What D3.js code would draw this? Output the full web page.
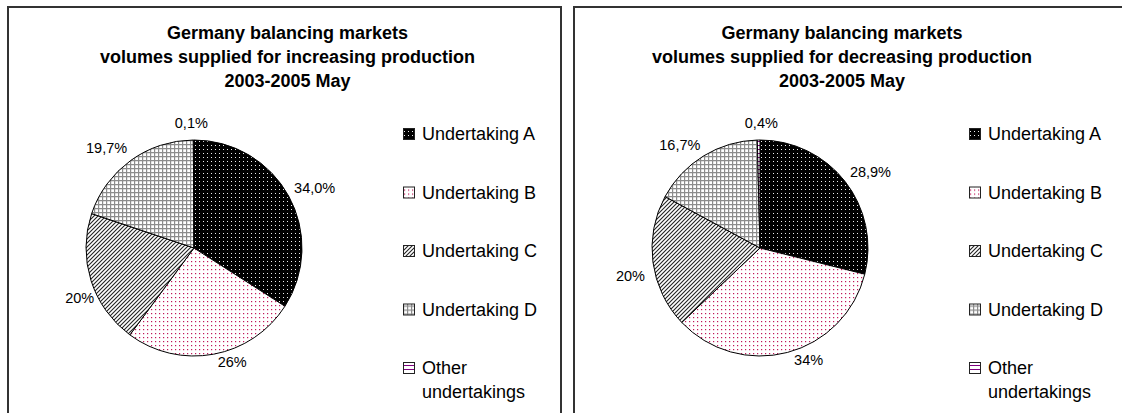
<!DOCTYPE html>
<html>
<head>
<meta charset="utf-8">
<script src="https://cdn.jsdelivr.net/npm/d3@7"></script>
<style>
  html, body { margin: 0; padding: 0; background: #fff; }
  svg { display: block; font-family: Arial, "Liberation Sans", sans-serif; }
</style>
</head>
<body>
<svg id="chart" width="1122" height="413"></svg>
<script>
// Slice categories, in drawing order (clockwise from 12 o'clock)
const categories = ["Undertaking A", "Undertaking B", "Undertaking C", "Undertaking D", "Other undertakings"];

// Shares of volume (%) per undertaking
const increasingValues = [34.0, 26, 20, 19.7, 0.1];
const decreasingValues = [28.9, 34, 20, 16.7, 0.4];

// Data labels as printed on each slice
const increasingLabels = ["34,0%", "26%", "20%", "19,7%", "0,1%"];
const decreasingLabels = ["28,9%", "34%", "20%", "16,7%", "0,4%"];

const titleLines = {
  increasing: ["Germany balancing markets", "volumes supplied for increasing production", "2003-2005 May"],
  decreasing: ["Germany balancing markets", "volumes supplied for decreasing production", "2003-2005 May"]
};

// small hand adjustments of the data labels (best-fit placement)
const labelNudgeIncreasing = [[0, 3], [3, -6], [9, 8], [0, 0], [-2, -3]];
const labelNudgeDecreasing = [[0, 2], [5, -6], [-2, 7], [0, 2], [4, -3]];

const svg = d3.select("#chart");
const defs = svg.append("defs");

// Fill patterns for the five slices
function makePattern(id, size, draw) {
  const p = defs.append("pattern")
    .attr("id", id)
    .attr("patternUnits", "userSpaceOnUse")
    .attr("width", size).attr("height", size);
  draw(p);
}
makePattern("pat-a", 4, p => {
  p.append("rect").attr("width", 4).attr("height", 4).attr("fill", "#000");
  p.append("rect").attr("x", 1).attr("y", 1).attr("width", 1).attr("height", 1).attr("fill", "#eee");
});
makePattern("pat-b", 4, p => {
  p.append("rect").attr("width", 4).attr("height", 4).attr("fill", "#fff");
  p.append("rect").attr("x", 1).attr("y", 1).attr("width", 1.2).attr("height", 1.2).attr("fill", "#c0185a");
});
makePattern("pat-c", 4, p => {
  p.append("rect").attr("width", 4).attr("height", 4).attr("fill", "#fff");
  p.append("path").attr("d", "M-1,5 L5,-1 M-1,1 L1,-1 M3,5 L5,3")
    .attr("stroke", "#222").attr("stroke-width", 1.1);
});
makePattern("pat-d", 4, p => {
  p.append("rect").attr("width", 4).attr("height", 4).attr("fill", "#fff");
  p.append("path").attr("d", "M0.5,0 V4 M0,0.5 H4")
    .attr("stroke", "#8c8c8c").attr("stroke-width", 1.4);
});
makePattern("pat-e", 4, p => {
  p.append("rect").attr("width", 4).attr("height", 4).attr("fill", "#fff");
  p.append("path").attr("d", "M0,1.5 H4").attr("stroke", "#800080").attr("stroke-width", 1);
});
const fills = d3.scaleOrdinal()
  .domain(categories)
  .range(["url(#pat-a)", "url(#pat-b)", "url(#pat-c)", "url(#pat-d)", "url(#pat-e)"]);

const radius = 108;
const pie = d3.pie().sort(null).value(d => d.value).startAngle(0).endAngle(2 * Math.PI);
const arc = d3.arc().innerRadius(0).outerRadius(radius);

function drawPanel(x0, titleCx, titles, values, labels, nudges) {
  const g = svg.append("g").attr("transform", `translate(${x0},7)`);

  // chart frame
  g.append("rect")
    .attr("x", 0).attr("y", 0).attr("width", 553).attr("height", 520)
    .attr("fill", "#fff").attr("stroke", "#333").attr("stroke-width", 2);

  // title
  g.append("text")
    .attr("text-anchor", "middle")
    .attr("font-weight", "bold")
    .attr("font-size", "18px")
    .attr("fill", "#000")
    .selectAll("tspan").data(titles).join("tspan")
    .attr("x", titleCx).attr("y", (d, i) => 26 + i * 24)
    .attr("dy", "0.35em")
    .text(d => d);

  // pie
  const data = categories.map((c, i) => ({ cat: c, value: values[i], label: labels[i], nudge: nudges[i] }));
  const arcs = pie(data);
  const pg = g.append("g").attr("transform", `translate(186,241)`);
  pg.selectAll("path.slice").data(arcs).join("path")
    .attr("class", "slice")
    .attr("d", arc)
    .attr("fill", d => fills(d.data.cat))
    .attr("stroke", "#000")
    .attr("stroke-width", 1)
    .attr("stroke-linejoin", "round");

  // data labels placed just outside each slice
  const clamp = v => Math.max(-1, Math.min(1, v));
  pg.selectAll("text.lbl").data(arcs).join("text")
    .attr("class", "lbl")
    .attr("font-size", "14.5px")
    .attr("fill", "#000")
    .attr("text-anchor", "middle")
    .attr("dy", "0.35em")
    .text(d => d.data.label)
    .each(function (d) {
      const a = (d.startAngle + d.endAngle) / 2;
      const gap = 6;
      const px = (radius + gap) * Math.sin(a);
      const py = -(radius + gap) * Math.cos(a);
      const bb = this.getBBox();
      const cx = px + bb.width / 2 * clamp(Math.sin(a) * 6) + d.data.nudge[0];
      const cy = py - bb.height / 2 * clamp(Math.cos(a) * 6) + d.data.nudge[1];
      d3.select(this).attr("x", cx).attr("y", cy);
    });

  // legend
  const lg = g.append("g").attr("transform", "translate(395,0)");
  const legendY = d3.scalePoint().domain(categories).range([127, 361]);
  const items = lg.selectAll("g.item").data(categories).join("g")
    .attr("class", "item")
    .attr("transform", d => `translate(0,${legendY(d)})`);
  items.append("rect")
    .attr("x", 0.5).attr("y", -5.5).attr("width", 11).attr("height", 11)
    .attr("fill", d => fills(d))
    .attr("stroke", "#222").attr("stroke-width", 1);
  items.append("text")
    .attr("font-size", "18px")
    .attr("fill", "#000")
    .selectAll("tspan")
    .data(d => d === "Other undertakings" ? ["Other", "undertakings"] : [d])
    .join("tspan")
    .attr("x", 19).attr("y", (d, i) => i * 24)
    .attr("dy", "0.35em")
    .text(d => d);
}

drawPanel(8, 279.5, titleLines.increasing, increasingValues, increasingLabels, labelNudgeIncreasing);
drawPanel(574, 268, titleLines.decreasing, decreasingValues, decreasingLabels, labelNudgeDecreasing);
</script>
</body>
</html>
